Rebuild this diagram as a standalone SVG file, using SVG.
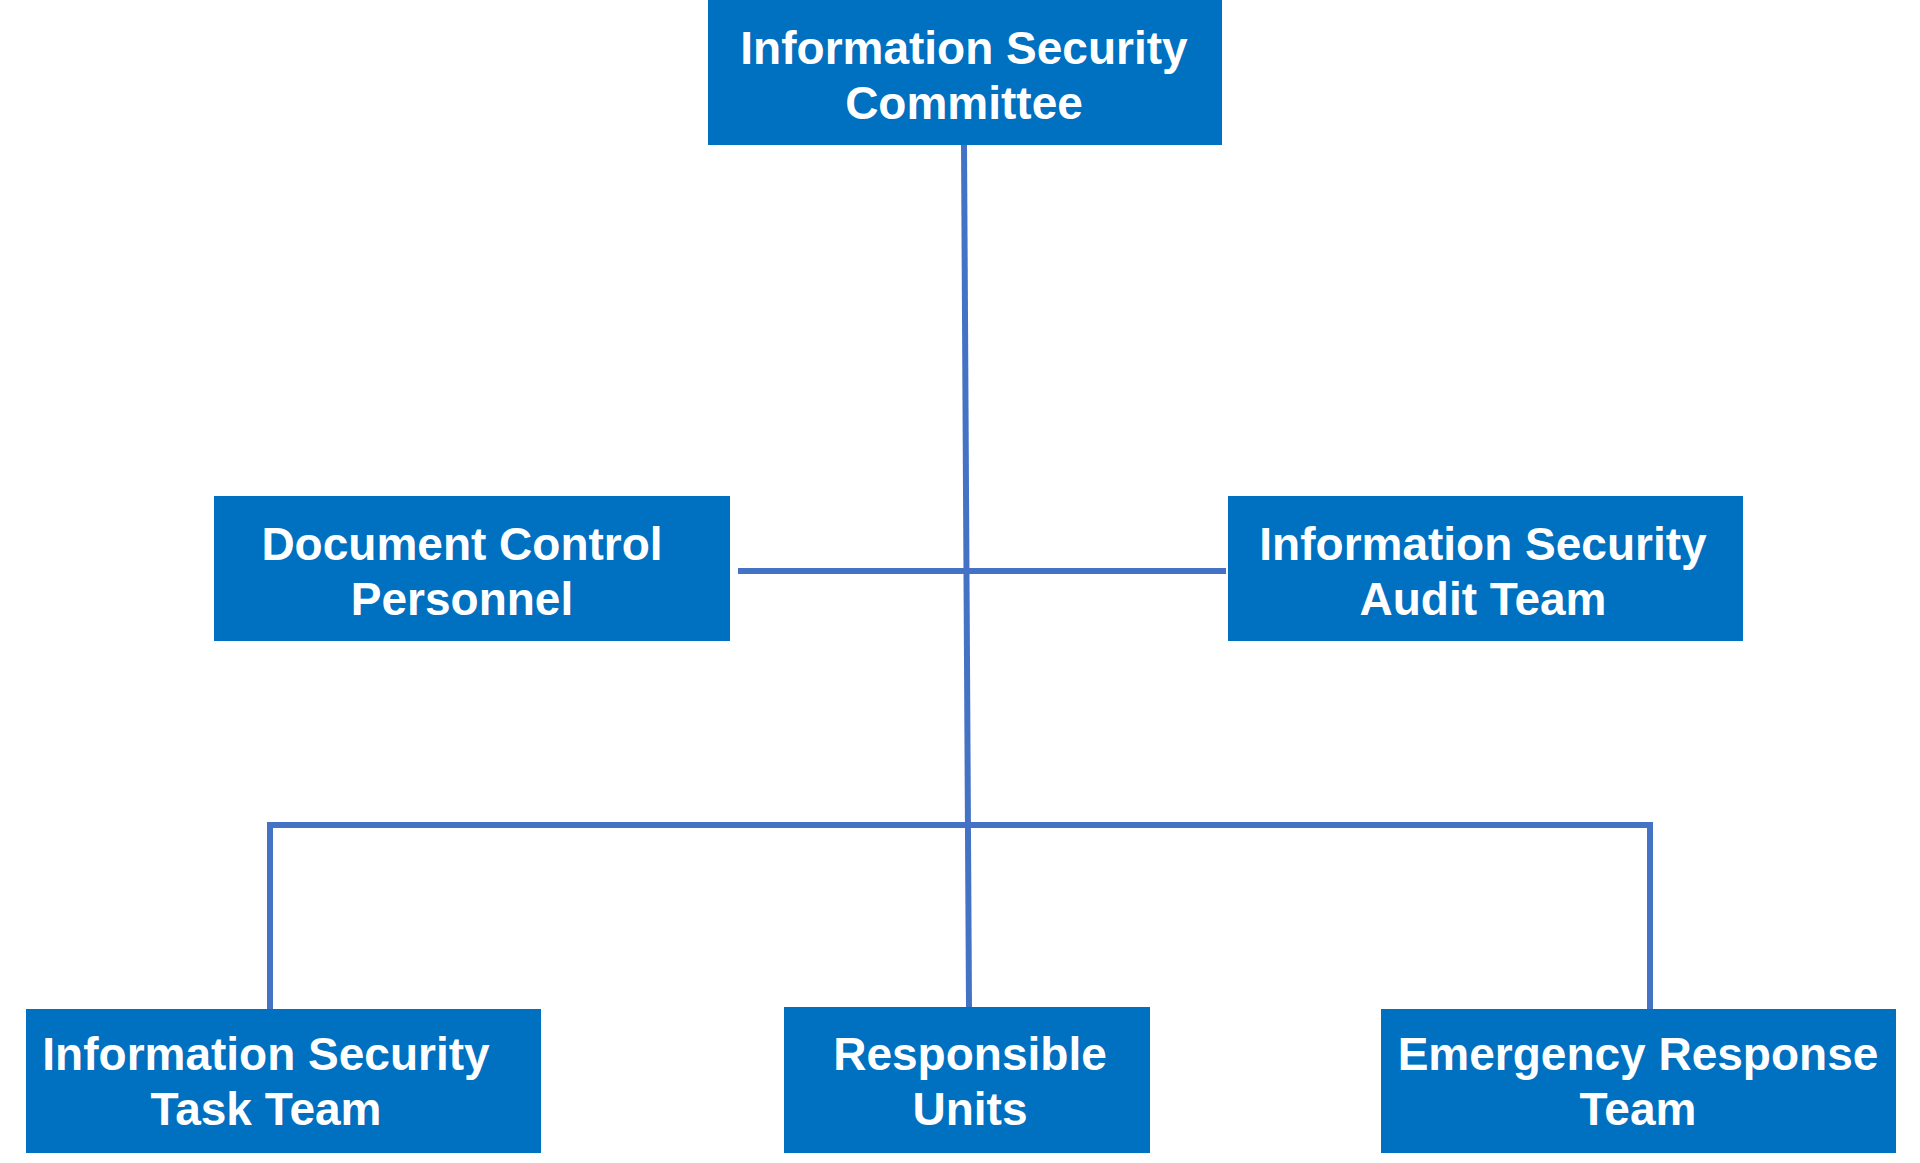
<svg xmlns="http://www.w3.org/2000/svg" width="1920" height="1163" viewBox="0 0 1920 1163">
<style>
.box{fill:#0070C0}
.t{font-family:"Liberation Sans",Arial,sans-serif;font-weight:bold;font-size:46px;fill:#fff;text-anchor:middle}
.c{stroke:#4472C4;stroke-width:6;fill:none}
</style>
<rect width="1920" height="1163" fill="#fff"/>
<g id="connectors">
<path class="c" d="M964 144 L969 1007"/>
<path class="c" d="M738 571 H1226"/>
<path class="c" d="M270 1009 V825 H1650 V1009"/>
</g>
<g id="n1"><rect class="box" x="708" y="0" width="514" height="145"/><text class="t" x="964" y="64">Information Security</text><text class="t" x="964" y="119">Committee</text></g>
<g id="n2"><rect class="box" x="214" y="496" width="516" height="145"/><text class="t" x="462" y="560">Document Control</text><text class="t" x="462" y="615">Personnel</text></g>
<g id="n3"><rect class="box" x="1228" y="496" width="515" height="145"/><text class="t" x="1483" y="560">Information Security</text><text class="t" x="1483" y="615">Audit Team</text></g>
<g id="n4"><rect class="box" x="26" y="1009" width="515" height="144"/><text class="t" x="266" y="1070">Information Security</text><text class="t" x="266" y="1125">Task Team</text></g>
<g id="n5"><rect class="box" x="784" y="1007" width="366" height="146"/><text class="t" x="970" y="1070">Responsible</text><text class="t" x="970" y="1125">Units</text></g>
<g id="n6"><rect class="box" x="1381" y="1009" width="515" height="144"/><text class="t" x="1638" y="1070">Emergency Response</text><text class="t" x="1638" y="1125">Team</text></g>
</svg>
